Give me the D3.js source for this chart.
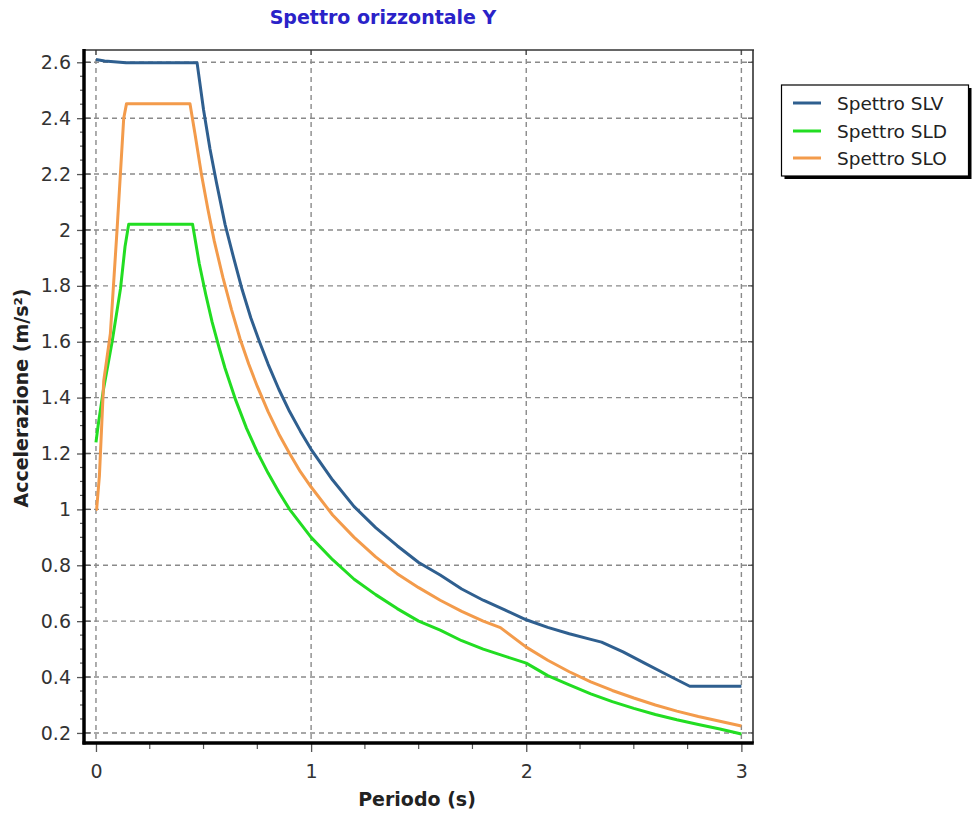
<!DOCTYPE html>
<html>
<head>
<meta charset="utf-8">
<script src="https://cdn.jsdelivr.net/npm/d3@7"></script>
<style>
  html, body { margin: 0; padding: 0; background: #ffffff; }
  svg { display: block; }
  text { font-family: "DejaVu Sans", sans-serif; }
</style>
</head>
<body>
<svg id="chart" width="974" height="814"></svg>
<script>
// ---------------- DATA ----------------
const chartTitle = "Spettro orizzontale Y";
const xLabel = "Periodo (s)";
const yLabel = "Accelerazione (m/s²)";

const xTicks = [0, 1, 2, 3];
const xTickLabels = ["0", "1", "2", "3"];
const yTicks = [0.2, 0.4, 0.6, 0.8, 1.0, 1.2, 1.4, 1.6, 1.8, 2.0, 2.2, 2.4, 2.6];
const yTickLabels = ["0.2", "0.4", "0.6", "0.8", "1", "1.2", "1.4", "1.6", "1.8", "2", "2.2", "2.4", "2.6"];

const seriesNames = ["Spettro SLV", "Spettro SLD", "Spettro SLO"];
const seriesColors = ["#2f5f8f", "#22dd22", "#f39b4b"];

// Spettro SLV
const slvT = [0, 0.04, 0.14, 0.47, 0.5, 0.53, 0.56, 0.6, 0.64, 0.68, 0.72, 0.76, 0.8, 0.85, 0.9, 0.95, 1.0, 1.1, 1.2, 1.3, 1.4, 1.5, 1.6, 1.7, 1.8, 1.9, 2.0, 2.1, 2.2, 2.3, 2.35, 2.45, 2.55, 2.65, 2.76, 3.0];
const slvA = [2.61, 2.605, 2.598, 2.598, 2.43, 2.29, 2.17, 2.02, 1.9, 1.785, 1.685, 1.6, 1.52, 1.43, 1.35, 1.28, 1.215, 1.105, 1.01, 0.935, 0.87, 0.81, 0.765, 0.715, 0.675, 0.64, 0.605, 0.578, 0.555, 0.535, 0.525, 0.49, 0.45, 0.41, 0.367, 0.367];

// Spettro SLD
const sldT = [0, 0.01, 0.035, 0.075, 0.114, 0.135, 0.152, 0.449, 0.48, 0.51, 0.54, 0.57, 0.6, 0.65, 0.7, 0.75, 0.8, 0.85, 0.9, 0.95, 1.0, 1.1, 1.2, 1.3, 1.4, 1.5, 1.6, 1.7, 1.8, 1.91, 2.0, 2.1, 2.2, 2.3, 2.4, 2.5, 2.6, 2.7, 2.8, 2.9, 3.0];
const sldA = [1.24, 1.3, 1.43, 1.6, 1.79, 1.94, 2.02, 2.02, 1.88, 1.77, 1.67, 1.585, 1.505, 1.39, 1.29, 1.205, 1.13, 1.062, 1.0, 0.95, 0.9, 0.82, 0.75, 0.695, 0.645, 0.6, 0.568, 0.53, 0.5, 0.472, 0.45, 0.405, 0.372, 0.34, 0.312, 0.288, 0.266, 0.247, 0.23, 0.214, 0.196];

// Spettro SLO
const sloT = [0, 0.003, 0.016, 0.036, 0.067, 0.098, 0.129, 0.142, 0.437, 0.46, 0.49, 0.52, 0.55, 0.59, 0.63, 0.67, 0.71, 0.75, 0.8, 0.85, 0.9, 0.95, 1.0, 1.1, 1.2, 1.3, 1.4, 1.5, 1.6, 1.7, 1.8, 1.88, 2.0, 2.1, 2.2, 2.3, 2.4, 2.5, 2.6, 2.7, 2.8, 2.9, 3.0];
const sloA = [1.0, 1.0, 1.12, 1.46, 1.63, 2.0, 2.4, 2.452, 2.452, 2.345, 2.2, 2.075, 1.96, 1.83, 1.715, 1.61, 1.52, 1.44, 1.35, 1.27, 1.2, 1.135, 1.08, 0.98, 0.9, 0.83, 0.77, 0.72, 0.675, 0.635, 0.6, 0.577, 0.507, 0.46, 0.419, 0.383, 0.352, 0.325, 0.3, 0.278, 0.259, 0.242, 0.225];

// ---------------- LAYOUT ----------------
const plot = { left: 85, right: 753, top: 50, bottom: 743 };
const xDomain = [-0.051, 3.054];
const yDomain = [0.164, 2.644];

const svg = d3.select("#chart");
svg.append("rect").attr("width", 974).attr("height", 814).attr("fill", "#ffffff");

const x = d3.scaleLinear().domain(xDomain).range([plot.left, plot.right]);
const y = d3.scaleLinear().domain(yDomain).range([plot.bottom, plot.top]);

// Grid
const grid = svg.append("g").attr("stroke", "#8a8a8a").attr("stroke-width", 1.4).attr("stroke-dasharray", "5,4");
grid.selectAll("line.h").data(yTicks).join("line")
  .attr("x1", plot.left).attr("x2", plot.right)
  .attr("y1", d => y(d)).attr("y2", d => y(d));
grid.selectAll("line.v").data(xTicks).join("line")
  .attr("y1", plot.top).attr("y2", plot.bottom)
  .attr("x1", d => x(d)).attr("x2", d => x(d));

// Series
const series = [
  { t: slvT, a: slvA },
  { t: sldT, a: sldA },
  { t: sloT, a: sloA }
];
const line = d3.line().x(d => x(d[0])).y(d => y(d[1]));
[1, 2, 0].forEach(i => {
  const pts = series[i].t.map((t, k) => [t, series[i].a[k]]);
  svg.append("path").datum(pts)
    .attr("d", line)
    .attr("fill", "none")
    .attr("stroke", seriesColors[i])
    .attr("stroke-width", 3)
    .attr("stroke-linejoin", "round");
});

// Axes
const yAxis = d3.axisLeft(y).tickValues(yTicks)
  .tickFormat((d, i) => yTickLabels[i]).tickSize(7).tickPadding(6);
const gy = svg.append("g").attr("transform", `translate(${plot.left - 1},0)`).call(yAxis);
gy.select(".domain").remove();
gy.selectAll("line").attr("stroke", "#555").attr("stroke-width", 1.3);
gy.selectAll("text").attr("font-size", 19).attr("fill", "#333");

const xAxis = d3.axisBottom(x).tickValues(xTicks)
  .tickFormat((d, i) => xTickLabels[i]).tickSize(9).tickPadding(13);
const gx = svg.append("g").attr("transform", `translate(0,${plot.bottom})`).call(xAxis);
gx.select(".domain").remove();
gx.selectAll("line").attr("stroke", "#555").attr("stroke-width", 1.3);
gx.selectAll("text").attr("font-size", 19).attr("fill", "#333");

// Minor ticks
const yMinor = d3.range(0.2, 2.6001, 0.05).filter(v => Math.abs(v * 5 - Math.round(v * 5)) > 1e-6);
svg.append("g").selectAll("line").data(yMinor).join("line")
  .attr("x1", plot.left - 5).attr("x2", plot.left - 1)
  .attr("y1", d => y(d)).attr("y2", d => y(d))
  .attr("stroke", "#555").attr("stroke-width", 1.2);
svg.append("g").selectAll("line").data(yTicks).join("line")
  .attr("x1", plot.left).attr("x2", plot.left + 6)
  .attr("y1", d => y(d)).attr("y2", d => y(d))
  .attr("stroke", "#555").attr("stroke-width", 1.3);
svg.append("g").selectAll("line").data(yTicks).join("line")
  .attr("x1", plot.right - 5).attr("x2", plot.right)
  .attr("y1", d => y(d)).attr("y2", d => y(d))
  .attr("stroke", "#555").attr("stroke-width", 1.3);
const xMinor = d3.range(0.25, 3, 0.25).filter(v => Math.abs(v - Math.round(v)) > 1e-6);
svg.append("g").selectAll("line").data(xMinor).join("line")
  .attr("x1", d => x(d)).attr("x2", d => x(d))
  .attr("y1", plot.bottom).attr("y2", plot.bottom + 6)
  .attr("stroke", "#555").attr("stroke-width", 1.2);
svg.append("g").selectAll("line").data(xTicks).join("line")
  .attr("x1", d => x(d)).attr("x2", d => x(d))
  .attr("y1", plot.top).attr("y2", plot.top + 5)
  .attr("stroke", "#555").attr("stroke-width", 1.3);

// Frame
svg.append("line").attr("x1", plot.left).attr("x2", plot.right + 1)
  .attr("y1", plot.top).attr("y2", plot.top).attr("stroke", "#333").attr("stroke-width", 1.6);
svg.append("line").attr("x1", plot.right).attr("x2", plot.right)
  .attr("y1", plot.top).attr("y2", plot.bottom).attr("stroke", "#333").attr("stroke-width", 1.6);
svg.append("line").attr("x1", plot.left - 1).attr("x2", plot.left - 1)
  .attr("y1", plot.top - 1).attr("y2", plot.bottom + 1.5).attr("stroke", "#000").attr("stroke-width", 3.5);
svg.append("line").attr("x1", plot.left - 2.5).attr("x2", plot.right + 0.8)
  .attr("y1", plot.bottom).attr("y2", plot.bottom).attr("stroke", "#000").attr("stroke-width", 3.5);

// Title & axis labels
svg.append("text").attr("x", 383).attr("y", 24).attr("text-anchor", "middle")
  .attr("font-size", 19).attr("font-weight", "bold").attr("fill", "#2a22c8").text(chartTitle);
svg.append("text").attr("x", 417).attr("y", 806).attr("text-anchor", "middle")
  .attr("font-size", 19).attr("font-weight", "bold").attr("fill", "#222").text(xLabel);
svg.append("text").attr("transform", "translate(28,398) rotate(-90)").attr("text-anchor", "middle")
  .attr("font-size", 19).attr("font-weight", "bold").attr("fill", "#222").text(yLabel);

// Legend
const lg = svg.append("g");
lg.append("rect").attr("x", 784.5).attr("y", 88).attr("width", 187).attr("height", 91).attr("fill", "#000");
lg.append("rect").attr("x", 781.5).attr("y", 85).attr("width", 187).attr("height", 91)
  .attr("fill", "#fff").attr("stroke", "#000").attr("stroke-width", 1.2);
const rowY = [103, 131, 158];
seriesNames.forEach((name, i) => {
  lg.append("line").attr("x1", 793).attr("x2", 821).attr("y1", rowY[i]).attr("y2", rowY[i])
    .attr("stroke", seriesColors[i]).attr("stroke-width", 3);
  lg.append("text").attr("x", 837).attr("y", rowY[i] + 7).attr("font-size", 18.5)
    .attr("fill", "#222").text(name);
});
</script>
</body>
</html>
